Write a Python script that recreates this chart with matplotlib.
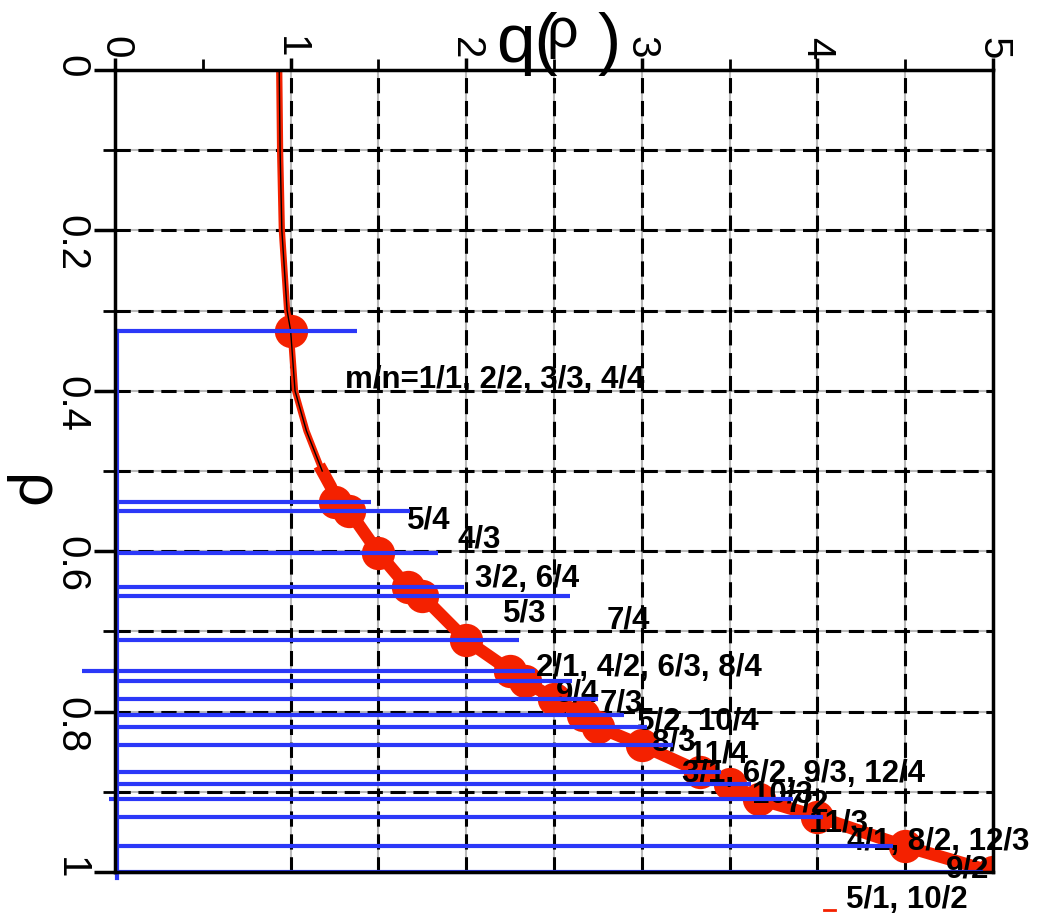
import matplotlib
matplotlib.use("Agg")
import matplotlib.pyplot as plt

RED = "#f42100"
BLUE = "#2b38f8"

# rational surfaces q = m/n and the radius where the profile crosses them
q_rational = [1.0, 5/4, 4/3, 3/2, 5/3, 7/4, 2.0, 9/4, 7/3, 5/2, 8/3, 11/4,
              3.0, 10/3, 7/2, 11/3, 4.0, 9/2, 5.0]
rho_rational = [0.325, 0.539, 0.550, 0.602, 0.645, 0.656, 0.711, 0.749, 0.762,
                0.784, 0.804, 0.819, 0.842, 0.875, 0.890, 0.909, 0.931, 0.968, 1.0]

# horizontal marker lines (start / end in q)
blue_start = [0, 0, 0, 0, 0, 0, 0, -0.19, 0, 0, 0, 0, 0, 0, 0, -0.035, 0, 0, 0]
blue_end = [1.38, 1.46, 1.68, 1.84, 1.99, 2.59, 2.30, 2.39, 2.60, 2.75, 2.90,
            3.03, 3.18, 3.45, 3.62, 3.86, 4.03, 4.43, 4.94]

# inner part of the q profile
rho_core = [0.0, 0.1, 0.2, 0.3, 0.325, 0.4, 0.45, 0.5, 0.52]
q_core = [0.935, 0.94, 0.95, 0.98, 1.0, 1.025, 1.09, 1.18, 1.23]

labels = ["m/n=1/1, 2/2, 3/3, 4/4", "5/4", "4/3", "3/2, 6/4", "5/3", "7/4",
          "2/1, 4/2, 6/3, 8/4", "9/4", "7/3", "5/2, 10/4", "8/3", "11/4",
          "3/1, 6/2, 9/3, 12/4", "10/3", "7/2", "11/3", "4/1, 8/2, 12/3",
          "9/2", "5/1, 10/2"]
label_q = [1.31, 1.66, 1.95, 2.05, 2.21, 2.80, 2.40, 2.51, 2.76, 2.97, 3.06,
           3.27, 3.23, 3.63, 3.82, 3.95, 4.17, 4.73, 4.16]
label_rho = [0.397, 0.572, 0.596, 0.645, 0.688, 0.696, 0.756, 0.787, 0.800,
             0.823, 0.848, 0.863, 0.888, 0.913, 0.925, 0.950, 0.973, 1.007, 1.045]

stub_q = [4.04, 4.10]
stub_rho = [1.047, 1.047]

fig = plt.figure(figsize=(10.39, 9.15), dpi=100)
ax = fig.add_axes([0.1107, 0.0470, 0.8451, 0.8765])
ax.set_xlim(0, 5)
ax.set_ylim(1, 0)

# grid: grey line under black dashes
for x in [1, 1.5, 2, 2.5, 3, 3.5, 4, 4.5]:
    ax.axvline(x, color="#bbbbbb", lw=1.5, zorder=1)
    ax.axvline(x, color="black", lw=2.2, dashes=(5, 2.5), zorder=1.5)
for y in [0.1, 0.2, 0.3, 0.4, 0.5, 0.6, 0.7, 0.8, 0.9]:
    ax.axhline(y, color="#bbbbbb", lw=1.5, zorder=1)
    ax.axhline(y, color="black", lw=2.2, dashes=(5, 2.5), zorder=1.5)

# q profile
rho_all = rho_core + rho_rational[1:]
q_all = q_core + q_rational[1:]
ax.plot(q_all, rho_all, color=RED, lw=4.5, zorder=2, solid_capstyle="butt")
ax.plot(q_all[7:], rho_all[7:], color=RED, lw=9, zorder=2)
ax.plot(q_rational, rho_rational, "o", color=RED, ms=24, mec="none", zorder=2.2)
ax.plot(q_core[:-1], rho_core[:-1], color="black", lw=1, zorder=2.4)

for txt, x, y in zip(labels, label_q, label_rho):
    ax.text(x, y, txt, fontsize=22.5, fontweight="bold", family="Liberation Sans",
            ha="left", va="baseline", zorder=4, clip_on=False)

ax.hlines(rho_rational, blue_start, blue_end, color=BLUE, lw=3, zorder=5, clip_on=False)
ax.plot([0.012, 0.012], [rho_rational[0], 1.008], color=BLUE, lw=3, zorder=5,
        clip_on=False)
ax.plot(stub_q, stub_rho, color=RED, lw=2, clip_on=False)

# axes / ticks
ax.xaxis.tick_top()
ax.set_xticks([0, 1, 2, 3, 4, 5])
ax.set_xticklabels(["0", "1", "2", "3", "4", "5"])
ax.set_xticks([0.5, 1.5, 2.5, 3.5, 4.5], minor=True)
ax.set_yticks([0, 0.2, 0.4, 0.6, 0.8, 1])
ax.set_yticklabels(["0", "0.2", "0.4", "0.6", "0.8", "1"])
ax.set_yticks([0.1, 0.3, 0.5, 0.7, 0.9], minor=True)
ax.tick_params(which="both", direction="out", labelrotation=-90,
               labelsize=29, labelfontfamily="Liberation Sans")
ax.tick_params(axis="x", which="major", length=9, width=2.5, pad=-1)
ax.tick_params(axis="x", which="minor", length=8, width=2)
ax.tick_params(axis="y", which="major", length=15, width=2.5, pad=3)
ax.tick_params(axis="y", which="minor", length=9, width=2)
for s in ax.spines.values():
    s.set_linewidth(2.5)
    s.set_zorder(6)

# title and axis label
fig.text(496 / 1039, 1 - 62 / 915, "q(", fontsize=50, family="Liberation Sans",
         ha="left", va="baseline")
fig.text(598 / 1039, 1 - 62 / 915, ")", fontsize=50, family="Liberation Sans",
         ha="left", va="baseline")
fig.text(562 / 1039, 1 - 47 / 915, "ρ", fontsize=40, family="Liberation Sans",
         ha="center", va="baseline")
fig.text(30 / 1039, 1 - 492 / 915, "ρ", fontsize=44, family="Liberation Sans",
         rotation=-90, ha="center", va="center")

fig.savefig("out.png", dpi=100)
